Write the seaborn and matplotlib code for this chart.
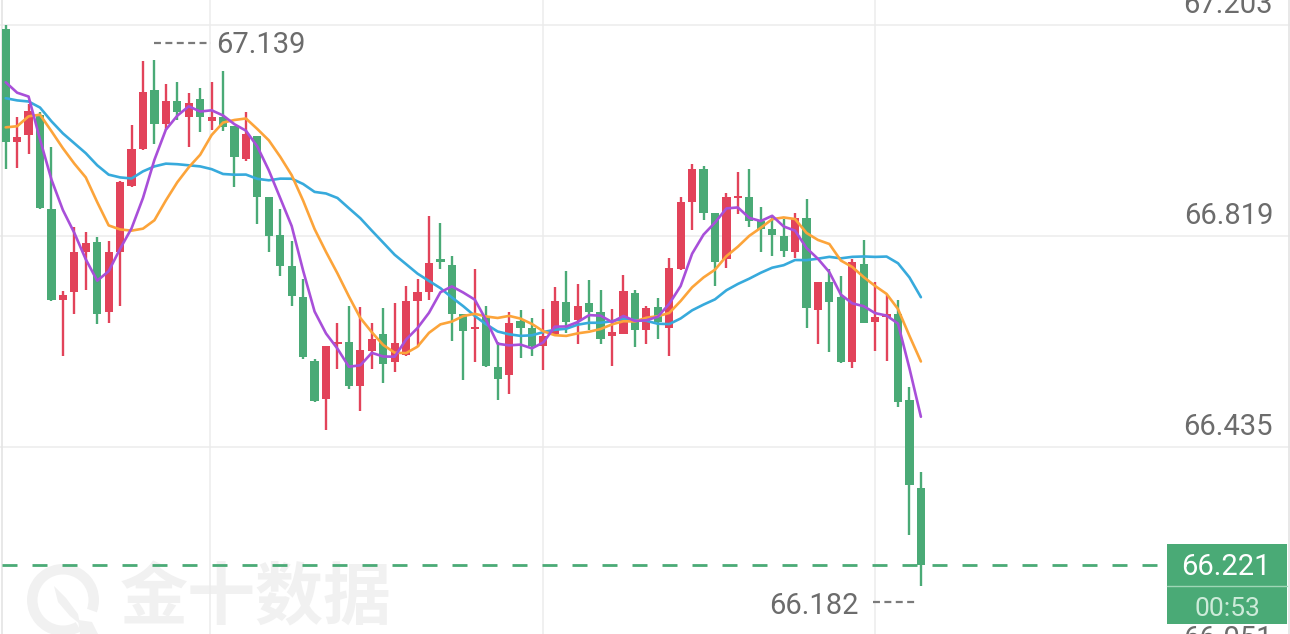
import numpy as np
import pandas as pd
import matplotlib
matplotlib.use("Agg")
import matplotlib.pyplot as plt
import seaborn as sns
from matplotlib.patches import Rectangle, Wedge, Polygon
from matplotlib.lines import Line2D
import matplotlib.transforms as mtransforms

# ---------------- data ----------------
opens = [67.194, 66.989, 67.003, 67.039, 66.867, 66.703, 66.716, 66.789, 66.807, 66.680,
         66.789, 66.909, 66.976, 67.083, 67.023, 67.063, 67.034, 67.067, 67.027, 67.034,
         67.018, 66.958, 67.000, 66.890, 66.821, 66.763, 66.707, 66.591, 66.522, 66.622,
         66.625, 66.545, 66.609, 66.641, 66.589, 66.603, 66.700, 66.716, 66.774, 66.765,
         66.676, 66.649, 66.672, 66.580, 66.565, 66.663, 66.652, 66.618, 66.640, 66.698,
         66.665, 66.696, 66.680, 66.636, 66.641, 66.714, 66.647, 66.689, 66.652, 66.758,
         66.881, 66.941, 66.861, 66.776, 66.887, 66.889, 66.845, 66.832, 66.818, 66.790,
         66.852, 66.683, 66.734, 66.707, 66.589, 66.767, 66.663, 66.672, 66.676, 66.520,
         66.360]
highs = [67.203, 67.034, 67.058, 67.043, 66.980, 66.718, 66.834, 66.825, 66.816, 66.809,
         66.918, 67.021, 67.136, 67.139, 67.094, 67.098, 67.079, 67.087, 67.098, 67.119,
         67.018, 67.043, 67.001, 66.890, 66.867, 66.809, 66.740, 66.594, 66.618, 66.661,
         66.691, 66.689, 66.661, 66.687, 66.696, 66.727, 66.740, 66.854, 66.843, 66.783,
         66.676, 66.758, 66.691, 66.625, 66.681, 66.683, 66.669, 66.685, 66.725, 66.754,
         66.732, 66.738, 66.720, 66.685, 66.747, 66.721, 66.692, 66.705, 66.778, 66.889,
         66.949, 66.945, 66.861, 66.896, 66.934, 66.940, 66.872, 66.854, 66.849, 66.861,
         66.885, 66.734, 66.758, 66.745, 66.776, 66.812, 66.734, 66.711, 66.703, 66.543,
         66.389]
lows = [66.940, 66.943, 66.967, 66.868, 66.700, 66.600, 66.676, 66.721, 66.658, 66.661,
        66.691, 66.907, 66.974, 66.985, 67.012, 67.030, 66.980, 67.007, 67.012, 67.009,
        66.907, 66.954, 66.841, 66.789, 66.745, 66.691, 66.594, 66.516, 66.465, 66.576,
        66.540, 66.500, 66.576, 66.552, 66.571, 66.600, 66.616, 66.703, 66.758, 66.627,
        66.556, 66.589, 66.580, 66.520, 66.532, 66.596, 66.600, 66.574, 66.636, 66.643,
        66.622, 66.647, 66.622, 66.582, 66.640, 66.616, 66.622, 66.631, 66.601, 66.757,
        66.830, 66.847, 66.727, 66.760, 66.858, 66.834, 66.789, 66.783, 66.780, 66.778,
        66.651, 66.622, 66.607, 66.587, 66.578, 66.660, 66.609, 66.591, 66.507, 66.274,
        66.182]
closes = [66.989, 66.998, 67.045, 66.870, 66.703, 66.712, 66.790, 66.805, 66.676, 66.789,
          66.916, 66.976, 67.081, 67.023, 67.063, 67.043, 67.061, 67.034, 67.034, 67.016,
          66.963, 67.003, 66.889, 66.818, 66.763, 66.709, 66.598, 66.518, 66.618, 66.625,
          66.545, 66.611, 66.631, 66.585, 66.623, 66.701, 66.716, 66.769, 66.772, 66.676,
          66.645, 66.652, 66.582, 66.558, 66.661, 66.652, 66.618, 66.636, 66.701, 66.663,
          66.692, 66.681, 66.631, 66.643, 66.718, 66.647, 66.687, 66.663, 66.760, 66.881,
          66.940, 66.861, 66.772, 66.889, 66.890, 66.845, 66.832, 66.820, 66.792, 66.852,
          66.687, 66.734, 66.698, 66.589, 66.772, 66.661, 66.671, 66.676, 66.516, 66.365,
          66.221]
# moving-average values for the first candles (window starts before the visible range)
ma5_head = [67.098, 67.079, 67.072, 66.994]
ma10_head = [67.016, 67.018, 67.036, 67.039, 67.009, 66.978, 66.950, 66.925, 66.880]
ma20_head = [67.069, 67.065, 67.063, 67.052, 67.027, 67.005, 66.987, 66.969, 66.947, 66.930,
             66.925, 66.923, 66.936, 66.945, 66.950, 66.949, 66.947, 66.945, 66.940]
axis_prices = [67.203, 66.819, 66.435, 66.051]
countdown = "00:53"
watermark = "金十数据"

# ---------------- style ----------------
RED = "#e2435a"
GREEN = "#4aaa76"
C_MA5 = "#a84fd9"
C_MA10 = "#fca43a"
C_MA20 = "#37aadc"
GRID = "#ececec"
LABEL = "#6c6c6c"
WM = "#f1f1f1"

sns.set_style("white")
plt.rcParams["font.family"] = ["Roboto", "Noto Sans CJK SC", "DejaVu Sans"]
plt.rcParams["lines.scale_dashes"] = False

W, H = 1290, 634
fig = plt.figure(figsize=(W / 100, H / 100), dpi=100)
ax = fig.add_axes([0, 0, 1, 1])
ax.set_facecolor("white")

n = len(closes)
df = pd.DataFrame({"i": np.arange(n), "open": opens, "high": highs,
                   "low": lows, "close": closes})
ma5 = df["close"].rolling(5).mean().to_numpy()
ma10 = df["close"].rolling(10).mean().to_numpy()
ma20 = df["close"].rolling(20).mean().to_numpy()
ma5[:len(ma5_head)] = ma5_head
ma10[:len(ma10_head)] = ma10_head
ma20[:len(ma20_head)] = ma20_head

# axes geometry: candle pitch and price scale in pixels
pitch = 11.44
first_px = 5.7
px_per_price = 211.2 / (axis_prices[0] - axis_prices[1])
top_price = axis_prices[0] + 24.5 / px_per_price
XLIM = (-first_px / pitch, (W - first_px) / pitch)
YLIM = (top_price - H / px_per_price, top_price)
ax.set_xlim(*XLIM)
ax.set_ylim(*YLIM)
ax.axis("off")

ident = mtransforms.IdentityTransform()

def disp(x, y):
    return ax.transData.transform((x, y))

# ---------------- watermark ----------------
cy = H - 600
ax.add_patch(Wedge((63, cy), 36, -20, 300, width=10.5, transform=ident,
                   facecolor=WM, edgecolor="none", zorder=0.2))
ax.add_patch(Polygon([(54, cy + 14), (66, cy + 2), (78, cy - 14), (80, cy - 24),
                      (70, cy - 16), (58, cy - 2)], closed=True,
                     transform=ident, facecolor=WM, edgecolor="none", zorder=0.2))
ax.add_patch(Polygon([(78, cy - 20), (92, cy - 22), (98, cy - 34), (80, cy - 34)],
                     closed=True, transform=ident, facecolor=WM, edgecolor="none",
                     zorder=0.2))
ax.text(120, cy, watermark, transform=ident, fontsize=49, fontweight="bold",
        color=WM, ha="left", va="center",
        family=["Noto Sans CJK SC", "DejaVu Sans"], zorder=0.2)

# ---------------- grid ----------------
for p in axis_prices:
    ax.axhline(p, color=GRID, lw=1.1, zorder=0.5)
for gx in [17.86, 46.97, 76.0]:
    ax.axvline(gx, color=GRID, lw=1.1, zorder=0.5)
ax.add_line(Line2D([1.5, 1.5], [0, H], transform=ident, color="#e4e4e4", lw=1.2, zorder=0.5))
ax.add_line(Line2D([1288.5, 1288.5], [0, H], transform=ident, color="#e4e4e4", lw=1.2, zorder=0.5))

# ---------------- candles ----------------
up = df["close"] >= df["open"]
colors = np.where(up, RED, GREEN)
ax.vlines(df["i"], df["low"], df["high"], colors=colors, lw=1.7, zorder=2)
body_bottom = np.minimum(df["open"], df["close"])
body_h = np.maximum(np.abs(df["close"] - df["open"]), 2.2 / px_per_price)
ax.bar(df["i"], body_h, bottom=body_bottom, width=0.72, color=colors,
       edgecolor="none", zorder=2.1)

# ---------------- moving averages (seaborn) ----------------
ma_long = pd.DataFrame({
    "i": np.tile(df["i"].to_numpy(), 3),
    "value": np.concatenate([ma20, ma10, ma5]),
    "ma": ["MA20"] * n + ["MA10"] * n + ["MA5"] * n,
})
sns.lineplot(data=ma_long, x="i", y="value", hue="ma",
             palette={"MA5": C_MA5, "MA10": C_MA10, "MA20": C_MA20},
             linewidth=1.9, legend=False, ax=ax, zorder=3, sort=False)
ax.set_xlim(*XLIM)
ax.set_ylim(*YLIM)
ax.axis("off")

# ---------------- right-side price labels ----------------
for p in axis_prices:
    X, Y = disp(0, p)
    ax.text(1273, Y + 11.5, f"{p:.3f}", transform=ident, ha="right", va="baseline",
            fontsize=21, color=LABEL, zorder=4)

# ---------------- max / min markers ----------------
imax = int(np.argmax(highs[1:])) + 1
hx, hy = disp(imax, highs[imax])
ax.add_line(Line2D([hx, hx + 57], [hy + 17, hy + 17], transform=ident, color="#7a7a7a",
                   lw=1.6, linestyle=(0, (5, 3.2)), zorder=4))
ax.text(hx + 62, hy + 6.5, f"{highs[imax]:.3f}", transform=ident, ha="left",
        va="baseline", fontsize=21, color=LABEL, zorder=4)

imin = int(np.argmin(lows))
lx, ly = disp(imin, lows[imin])
ax.add_line(Line2D([lx - 48, lx - 6], [ly - 16, ly - 16], transform=ident, color="#7a7a7a",
                   lw=1.6, linestyle=(0, (5, 3.2)), zorder=4))
ax.text(lx - 62, ly - 28, f"{lows[imin]:.3f}", transform=ident, ha="right",
        va="baseline", fontsize=21, color=LABEL, zorder=4)

# ---------------- last price line and box ----------------
last = closes[-1]
_, Yp = disp(0, last)
ax.add_line(Line2D([2, 1167], [Yp, Yp], transform=ident, color=GREEN, lw=2.0,
                   linestyle=(0, (10.8, 10.8)), zorder=3.5))
ax.add_patch(Rectangle((1167, Yp - 59), 120, 80, transform=ident, facecolor=GREEN,
                       edgecolor="none", zorder=5))
ax.add_line(Line2D([1167, 1287], [Yp - 21, Yp - 21], transform=ident, color="#9fd6b6",
                   lw=1.0, zorder=5.1))
ax.text(1226, Yp - 10.5, f"{last:.3f}", transform=ident, ha="center", va="baseline",
        fontsize=21, color="white", zorder=6)
ax.text(1227, Yp - 51, countdown, transform=ident, ha="center", va="baseline",
        fontsize=19, color="#cdebd9", zorder=6)

fig.savefig("out.png", dpi=100, facecolor="white")
